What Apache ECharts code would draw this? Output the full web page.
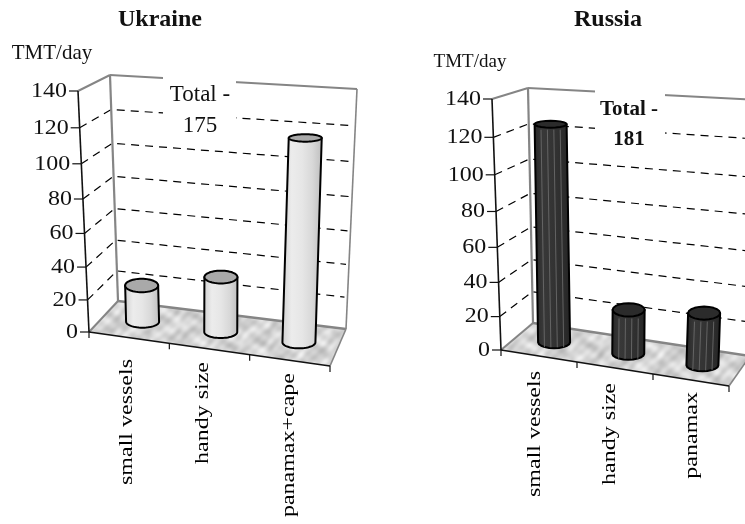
<!DOCTYPE html>
<html><head><meta charset="utf-8">
<style>html,body{margin:0;padding:0;background:#fff}#c{width:745px;height:524px}</style>
<script src="https://cdn.jsdelivr.net/npm/echarts@6/dist/echarts.min.js"></script>
</head><body><div id="c"></div>
<script>
// ---- data ----
const tickValues = [0, 20, 40, 60, 80, 100, 120, 140];
const tickLabels = ['0', '20', '40', '60', '80', '100', '120', '140'];
const ukraineCategories = ['small vessels', 'handy size', 'panamax+cape'];
const ukraineValues = [23, 34, 118];
const russiaCategories = ['small vessels', 'handy size', 'panamax'];
const russiaValues = [125, 26, 30];

// ---- layout ----
const FF = '"Liberation Serif","Times New Roman",serif';
const panels = [
  { name: 'Ukraine', cats: ukraineCategories, vals: ukraineValues,
    grid: { left: 89, top: 91, width: 241, height: 241 },
    fb: [[89, 332], [330, 366]], ft: [[78, 91], [341, 110]],
    bb: [[118, 301], [346, 329]], bt: [[110, 75], [357, 89]],
    labels: [[127, 359], [203, 362], [289, 373]],
    width: 33, segs: 28, body: ['#cfcfcf', '#ececec', '#e6e6e6', '#d8d8d8', '#bdbdbd'], top: '#a9a9a9', stripes: 0 },
  { name: 'Russia', cats: russiaCategories, vals: russiaValues,
    grid: { left: 501, top: 99, width: 228, height: 251 },
    fb: [[501, 350], [729, 386]], ft: [[492, 99], [740, 116]],
    bb: [[533, 323], [750, 356]], bt: [[528, 88], [762, 100]],
    labels: [[535, 371], [610, 383], [692, 392]],
    width: 32, segs: 10, body: ['#262626', '#383838', '#343434', '#2e2e2e', '#242424'], top: '#2b2b2b', stripes: 4 }
];
const warp = v => v - 0.08 * v * (1 - v);
const lerp = (a, b, t) => [a[0] + (b[0] - a[0]) * t, a[1] + (b[1] - a[1]) * t];
function project(p, u, v, d) {
  const w = warp(v);
  const front = lerp(lerp(p.fb[0], p.fb[1], u), lerp(p.ft[0], p.ft[1], u), w);
  const back = lerp(lerp(p.bb[0], p.bb[1], u), lerp(p.bt[0], p.bt[1], u), w);
  return lerp(front, back, d);
}
function uv(p, api, cat, val) {
  const c = api.coord([cat, val]);
  return [(c[0] - p.grid.left) / p.grid.width, (p.grid.top + p.grid.height - c[1]) / p.grid.height];
}

// soft mottled floor texture (a decorative fill, carries no data)
function marble() {
  const W = 120, H = 60, T = Math.PI * 2;
  const cv = document.createElement('canvas'); cv.width = W; cv.height = H;
  const g = cv.getContext('2d'), img = g.createImageData(W, H);
  for (let y = 0; y < H; y++) for (let x = 0; x < W; x++) {
    const a = x / W, b = y / H;
    const s = 212
      + 11 * Math.sin(T * (3 * a) + 2 * Math.sin(T * 2 * b))
      + 8 * Math.sin(T * (5 * a + 3 * b) + 1.5 * Math.sin(T * 4 * a))
      + 6 * Math.sin(T * (-7 * a + 4 * b) + 1)
      + 4 * Math.sin(T * (11 * a + 6 * b) + 2);
    const i = (y * W + x) * 4;
    img.data[i] = img.data[i + 1] = img.data[i + 2] = s; img.data[i + 3] = 255;
  }
  g.putImageData(img, 0, 0);
  return cv;
}
const floorPattern = { image: marble(), repeat: 'repeat' };
const GRAY = '#858585', AX = '#111';
const seg = (a, b, stroke, lw, dash) => ({ type: 'polyline', shape: { points: [a, b] }, style: { fill: 'none', stroke, lineWidth: lw, lineDash: dash } });

function frameRender(p) {
  return function (params, api) {
    const val = api.value(1), [, v] = uv(p, api, 0, val), kids = [];
    const fl = project(p, 0, v, 0), bl = project(p, 0, v, 1), br = project(p, 1, v, 1);
    if (val === 0) {
      kids.push({ type: 'polygon', shape: { points: [fl, bl, br, project(p, 1, 0, 0)] }, style: { fill: floorPattern, stroke: null } });
      kids.push(seg(fl, bl, GRAY, 2), seg(bl, br, GRAY, 2.4), seg(br, project(p, 1, 0, 0), GRAY, 1.6));
      kids.push(seg(fl, project(p, 1, 0, 0), AX, 1.6));
      for (let k = 0; k <= 3; k++) {
        const a = project(p, k / 3, 0, 0);
        kids.push(seg(a, [a[0], a[1] + 6], AX, 1.2));
      }
    } else if (val === 140) {
      kids.push(seg(fl, bl, GRAY, 2), seg(bl, br, GRAY, 2));
      kids.push(seg(bl, project(p, 0, 0, 1), GRAY, 2.2), seg(br, project(p, 1, 0, 1), GRAY, 1.6));
      kids.push(seg(fl, project(p, 0, 0, 0), AX, 1.6));
    } else {
      kids.push({ type: 'polyline', shape: { points: [fl, bl, [br[0] - 3, br[1]]] },
        style: { fill: 'none', stroke: '#000', lineWidth: 1.2, lineDash: [8, 6] } });
    }
    kids.push(seg([fl[0] - 9, fl[1]], fl, AX, 1.2));
    kids.push({ type: 'text', x: fl[0] - 11, y: fl[1], scaleX: 1.09,
      style: { text: tickLabels[params.dataIndex], align: 'right', verticalAlign: 'middle', fontFamily: FF, fontSize: 22, fill: '#111' } });
    return { type: 'group', children: kids };
  };
}

function barRender(p) {
  return function (params, api) {
    const [u, v] = uv(p, api, api.value(0), api.value(1));
    const bot = project(p, u, 0, 0.5), top = project(p, u, v, 0.5);
    const rx = p.width / 2, ryT = 7.5 - 4.5 * v, ryB = 6, pts = [];
    pts.push([top[0] - rx, top[1]]);
    for (let i = 0; i <= p.segs; i++) {
      const a = Math.PI - Math.PI * i / p.segs;
      pts.push([bot[0] + rx * Math.cos(a), bot[1] + ryB * Math.sin(a)]);
    }
    pts.push([top[0] + rx, top[1]]);
    const lid = [];
    for (let i = 0; i < p.segs * 2; i++) {
      const a = Math.PI * i / p.segs;
      lid.push([top[0] + rx * Math.cos(a), top[1] + ryT * Math.sin(a)]);
    }
    const n = p.body.length;
    const kids = [{ type: 'polygon', shape: { points: pts }, style: {
      fill: { type: 'linear', x: 0, y: 0, x2: 1, y2: 0, colorStops: p.body.map((c, i) => ({ offset: i / (n - 1), color: c })) },
      stroke: '#000', lineWidth: 2, lineJoin: 'round' } }];
    for (let s = 1; s <= p.stripes; s++) {
      const f = s / (p.stripes + 1) * 2 - 1;
      kids.push(seg([top[0] + rx * f, top[1] + ryT + 2], [bot[0] + rx * f, bot[1] + ryB - 1], '#707070', 0.8));
    }
    kids.push({ type: 'polygon', shape: { points: lid }, style: { fill: p.top, stroke: '#000', lineWidth: 2, lineJoin: 'round' } });
    return { type: 'group', children: kids };
  };
}

function catRender(p) {
  return function (params, api) {
    const l = p.labels[params.dataIndex];
    return { type: 'text', x: l[0], y: l[1], rotation: Math.PI / 2, scaleY: 0.8,
      style: { text: p.cats[params.dataIndex], align: 'right', verticalAlign: 'middle', fontFamily: FF, fontSize: 24, fill: '#000' } };
  };
}

const series = [];
panels.forEach((p, i) => {
  const base = { type: 'custom', xAxisIndex: i, yAxisIndex: i, clip: false, animation: false, silent: true };
  series.push(Object.assign({}, base, { name: p.name + ' frame', z: 2, renderItem: frameRender(p),
    encode: { x: 0, y: 1 }, data: tickValues.map(t => [0, t]) }));
  series.push(Object.assign({}, base, { name: p.name, z: 6, renderItem: barRender(p),
    encode: { x: 0, y: 1 }, data: p.vals.map((val, k) => [k, val]) }));
  series.push(Object.assign({}, base, { name: p.name + ' labels', z: 7, renderItem: catRender(p),
    encode: { x: 0, y: 1 }, data: p.cats.map((c, k) => [k, 0]) }));
});

const txt = (text, x, y, size, weight) => ({ type: 'text', x, y, z: 8, silent: true,
  style: { text, align: 'center', verticalAlign: 'middle', fontFamily: FF, fontSize: size, fontWeight: weight || 'normal', fill: '#111' } });
const box = (x, y, width, height) => ({ type: 'rect', z: 4, silent: true, shape: { x, y, width, height }, style: { fill: '#fff' } });

const chart = echarts.init(document.getElementById('c'), null, { renderer: 'canvas' });
chart.setOption({
  animation: false,
  backgroundColor: '#fff',
  grid: panels.map(p => p.grid),
  xAxis: panels.map((p, i) => ({ type: 'category', gridIndex: i, data: p.cats, show: false })),
  yAxis: panels.map((p, i) => ({ type: 'value', gridIndex: i, min: 0, max: 140, interval: 20, show: false })),
  series,
  graphic: { elements: [
    txt('Ukraine', 160, 20, 24, 'bold'), txt('Russia', 608, 20, 24, 'bold'),
    txt('TMT/day', 52, 53, 21), txt('TMT/day', 470, 62, 19),
    box(163, 70, 73, 67), box(595, 85, 70, 70),
    txt('Total -', 200, 95, 23), txt('175', 200, 126, 23),
    txt('Total -', 629, 110, 21, 'bold'), txt('181', 629, 140, 21, 'bold')
  ] }
});
</script></body></html>
